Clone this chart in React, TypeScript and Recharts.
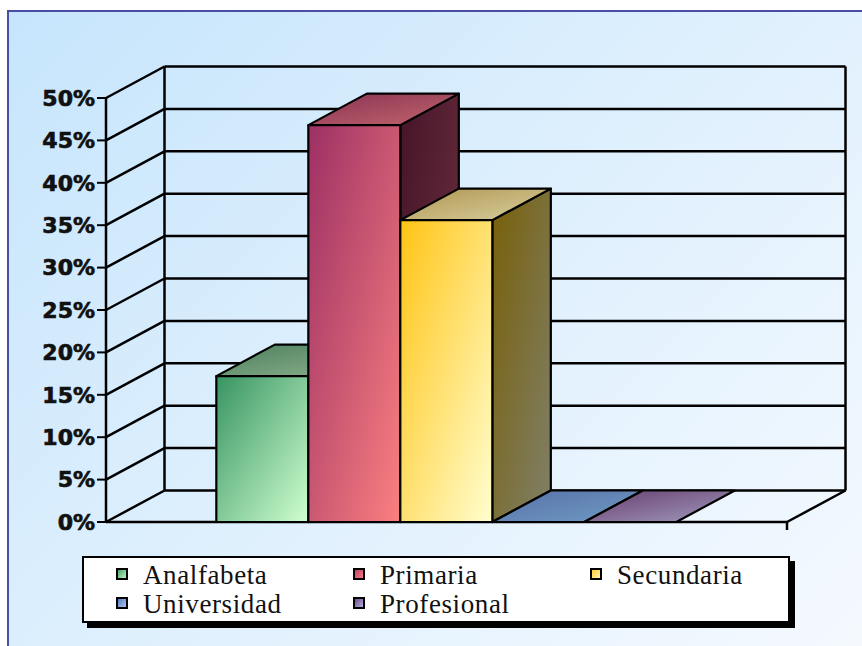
import { BarChart, Bar, XAxis, YAxis, CartesianGrid, ReferenceArea, Legend } from "recharts"

// education level shares, in percent
const seriesNames = ["Analfabeta", "Primaria", "Secundaria", "Universidad", "Profesional"]
const seriesValues = [17.2, 46.8, 35.6, 0, 0]
const yTicks = [0, 5, 10, 15, 20, 25, 30, 35, 40, 45, 50]

// colours per series: front face, top face, side face, legend swatch
const frontColors = [
  ["#379461", "#d0ffd0"],
  ["#9c3064", "#fa8080"],
  ["#ffc414", "#fffed0"],
  ["#5d7fc0", "#a0c0f0"],
  ["#705090", "#b0a8d8"],
]
const topColors = [
  ["#4a7e5c", "#8fb28e"],
  ["#873252", "#c4666f"],
  ["#b09550", "#d8d0a0"],
  ["#5870a8", "#6e9cc4"],
  ["#663c6c", "#a29cc0"],
]
const sideColors = [
  ["#3e6a4c", "#6e8e70"],
  ["#461428", "#6e3442"],
  ["#786008", "#80806a"],
  ["#3a5080", "#5a78a0"],
  ["#4a3060", "#7a6a98"],
]
const swatchColors = [
  ["#4aa46a", "#b8f2c0"],
  ["#c04466", "#f27a86"],
  ["#ffcc3a", "#fff2a8"],
  ["#5a7cc0", "#a8c6f2"],
  ["#6e4c8c", "#b8b0dc"],
]

const data = [
  seriesNames.reduce<Record<string, string | number>>(
    (row, name, i) => ({ ...row, [name]: seriesValues[i] }),
    { grupo: "Nivel" }
  ),
]

// oblique depth of the 3D box
const DX = 58.5
const DY = -31.5

function Box3D(props: any) {
  const { x, y, width, height, idx } = props
  const top = `${x},${y} ${x + width},${y} ${x + width + DX},${y + DY} ${x + DX},${y + DY}`
  const side = `${x + width},${y} ${x + width + DX},${y + DY} ${x + width + DX},${y + height + DY} ${x + width},${y + height}`
  const line = { stroke: "#000", strokeWidth: 2.2, strokeLinejoin: "round" as const }
  return (
    <g>
      {height > 0 && <polygon points={side} fill={`url(#side${idx})`} {...line} />}
      <polygon points={top} fill={`url(#top${idx})`} {...line} />
      {height > 0 && (
        <rect x={x} y={y} width={width} height={height} fill={`url(#front${idx})`} {...line} />
      )}
    </g>
  )
}

// back wall line plus the diagonal on the left wall for each tick
const gridLine = (p: any) => (
  <g key={p.key}>
    <line x1={p.x1} y1={p.y1} x2={p.x1 + DX} y2={p.y1 + DY} stroke="#000" strokeWidth={2.5} />
    <line x1={p.x1 + DX} y1={p.y1 + DY} x2={p.x2 + DX} y2={p.y2 + DY} stroke="#000" strokeWidth={2.5} />
  </g>
)

// wall edges and floor outline
const wallFrame = (p: any) => {
  const { x, y, width, height } = p
  const b = y + height
  const r = x + width
  const s = { stroke: "#000", strokeWidth: 2.5 }
  return (
    <g>
      <line x1={x + DX} y1={y + DY} x2={x + DX} y2={b + DY} {...s} />
      <line x1={r + DX} y1={y + DY} x2={r + DX} y2={b + DY} {...s} />
      <line x1={r} y1={b} x2={r + DX} y2={b + DY} {...s} />
      <line x1={x} y1={b} x2={r} y2={b} {...s} />
      <line x1={r} y1={b} x2={r} y2={b + 8} {...s} />
    </g>
  )
}

const renderLegend = (props: any) => {
  const payload = [...(props.payload ?? [])].sort(
    (a: any, b: any) => seriesNames.indexOf(a.value) - seriesNames.indexOf(b.value)
  )
  return (
    <div
      style={{
        boxSizing: "border-box",
        width: 708,
        height: 67,
        background: "#fff",
        border: "2px solid #000",
        boxShadow: "5px 5px 0 #000",
        padding: "5px 0 0 32px",
        display: "grid",
        gridTemplateColumns: "237px 237px 200px",
        fontFamily: "'Liberation Serif', serif",
        fontSize: 27,
        letterSpacing: 0.6,
        lineHeight: "24.6px",
        color: "#111",
      }}
    >
      {payload.map((entry: any) => {
        const i = seriesNames.indexOf(entry.value)
        const [c1, c2] = swatchColors[i]
        return (
          <div key={entry.value} style={{ display: "flex", alignItems: "flex-start" }}>
            <span
              style={{
                boxSizing: "border-box",
                width: 12,
                height: 12,
                marginTop: 5,
                border: "2px solid #000",
                background: `linear-gradient(135deg, ${c1}, ${c2})`,
                flex: "none",
              }}
            />
            <span style={{ marginLeft: 15 }}>{entry.value}</span>
          </div>
        )
      })}
    </div>
  )
}

export default function App() {
  return (
    <div style={{ position: "absolute", left: 0, top: 0, width: 862, height: 646, overflow: "hidden", background: "#fff" }}>
      <div
        style={{
          position: "absolute",
          left: 7,
          top: 10,
          width: 870,
          height: 660,
          border: "2px solid #4a4ea6",
          background: "linear-gradient(135deg, #c6e5fc 0%, #ddeffd 45%, #f6faff 100%)",
        }}
      />
      <div style={{ position: "absolute", left: 0, top: 0 }}>
        <BarChart
          width={862}
          height={646}
          data={data}
          margin={{ top: 98, right: 75, bottom: 124, left: 10 }}
          barCategoryGap="16.2%"
          barGap={0}
        >
          <defs>
            {seriesNames.map((_, i) => (
              <g key={i}>
                <linearGradient id={`front${i}`} x1="0" y1="0" x2="1" y2="1">
                  <stop offset="0%" stopColor={frontColors[i][0]} />
                  <stop offset="100%" stopColor={frontColors[i][1]} />
                </linearGradient>
                <linearGradient id={`top${i}`} x1="0" y1="0" x2="1" y2="1">
                  <stop offset="0%" stopColor={topColors[i][0]} />
                  <stop offset="100%" stopColor={topColors[i][1]} />
                </linearGradient>
                <linearGradient id={`side${i}`} x1="0" y1="0" x2="1" y2="1">
                  <stop offset="0%" stopColor={sideColors[i][0]} />
                  <stop offset="100%" stopColor={sideColors[i][1]} />
                </linearGradient>
              </g>
            ))}
          </defs>
          <CartesianGrid vertical={false} horizontal={gridLine} />
          <ReferenceArea y1={0} y2={50} shape={wallFrame} />
          <XAxis dataKey="grupo" hide />
          <YAxis
            width={96}
            domain={[0, 50]}
            ticks={yTicks}
            interval={0}
            tickFormatter={(v: number) => `${v}%`}
            axisLine={{ stroke: "#000", strokeWidth: 2.5 }}
            tickLine={{ stroke: "#000", strokeWidth: 2 }}
            tickSize={9}
            tickMargin={2}
            tick={{
              fill: "#111",
              stroke: "#111",
              strokeWidth: 0.7,
              fontFamily: "'DejaVu Sans', sans-serif",
              fontWeight: 700,
              fontSize: 22,
            }}
          />
          {seriesNames.map((name, i) => (
            <Bar
              key={name}
              dataKey={name}
              name={name}
              fill={swatchColors[i][0]}
              isAnimationActive={false}
              shape={(p: any) => <Box3D {...p} idx={i} />}
            />
          ))}
          <Legend
            layout="horizontal"
            verticalAlign="middle"
            align="center"
            wrapperStyle={{ left: 82, top: 556, width: 708, height: 67 }}
            content={renderLegend}
          />
        </BarChart>
      </div>
    </div>
  )
}
